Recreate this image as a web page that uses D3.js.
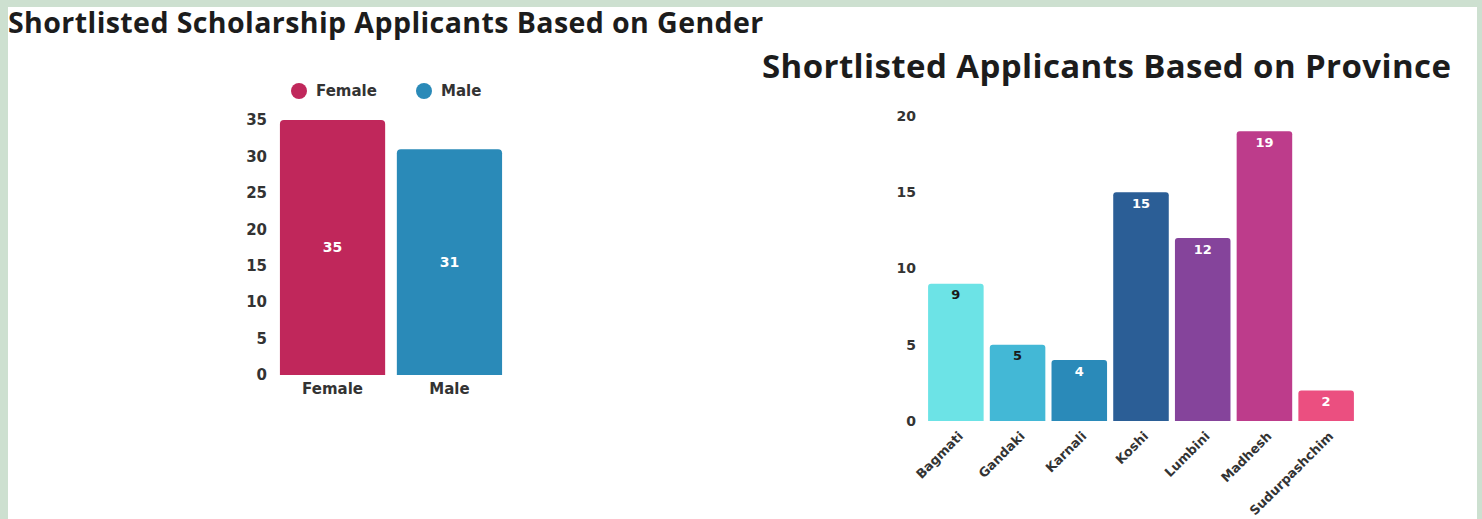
<!DOCTYPE html>
<html><head><meta charset="utf-8">
<script src="https://cdn.jsdelivr.net/npm/d3@7"></script>
<style>
html,body{margin:0;padding:0;background:#cde0d0;}
svg{display:block;}
</style></head>
<body>
<svg id="c" width="1482" height="519"></svg>
<script>
const genderCategories = ["Female", "Male"];
const genderValues = [35, 31];
const genderColors = ["#c0275b", "#2a8ab8"];
const genderTicks = [0, 5, 10, 15, 20, 25, 30, 35];

const provinceCategories = ["Bagmati", "Gandaki", "Karnali", "Koshi", "Lumbini", "Madhesh", "Sudurpashchim"];
const provinceValues = [9, 5, 4, 15, 12, 19, 2];
const provinceColors = ["#6ce3e6", "#43b8d6", "#2a8ab9", "#2b5e96", "#85449b", "#bd3c8b", "#eb4f80"];
const provinceLabelColors = ["#1a1a1a", "#1a1a1a", "#fff", "#fff", "#fff", "#fff", "#fff"];
const provinceTicks = [0, 5, 10, 15, 20];

const title1 = "Shortlisted Scholarship Applicants Based on Gender";
const title2 = "Shortlisted Applicants Based on Province";

const svg = d3.select("#c");
const TFONT = "'Open Sans', sans-serif";
const FONT = "'DejaVu Sans', sans-serif";

svg.append("rect").attr("x", 8).attr("y", 7).attr("width", 1469).attr("height", 512).attr("fill", "#fff");

function fitText(sel, w) {
  const cur = sel.node().getComputedTextLength();
  const fs = parseFloat(sel.attr("font-size"));
  sel.attr("font-size", fs * w / cur);
}

function topRounded(x, y, w, h, r) {
  r = Math.min(r, h, w / 2);
  return `M${x},${y + h}V${y + r}Q${x},${y} ${x + r},${y}H${x + w - r}Q${x + w},${y} ${x + w},${y + r}V${y + h}Z`;
}

// titles
const t1 = svg.append("text").attr("x", 8).attr("y", 33).attr("font-family", TFONT)
  .attr("font-weight", 700).attr("font-size", 22).attr("letter-spacing", 0.4).attr("fill", "#1c1c1c").text(title1);
fitText(t1, 762);
const t2 = svg.append("text").attr("x", 762).attr("y", 78).attr("font-family", TFONT)
  .attr("font-weight", 700).attr("font-size", 30).attr("letter-spacing", 0.4).attr("fill", "#1c1c1c").text(title2);
fitText(t2, 691);

// ---------- Gender chart ----------
const gx = d3.scaleBand().domain(genderCategories).range([277, 505]).paddingInner(0.1).paddingOuter(0.025);
const gy = d3.scaleLinear().domain([0, 35]).range([375, 120]);

const gAxisY = svg.append("g").attr("transform", "translate(269,0)")
  .call(d3.axisLeft(gy).tickValues(genderTicks).tickSize(0).tickPadding(2));
gAxisY.select(".domain").remove();
gAxisY.selectAll("text").attr("font-family", FONT).attr("font-weight", 700).attr("font-size", 15).attr("fill", "#333");

const gAxisX = svg.append("g").attr("transform", "translate(0,375)")
  .call(d3.axisBottom(gx).tickSize(0).tickPadding(8));
gAxisX.select(".domain").remove();
gAxisX.selectAll("text").attr("font-family", FONT).attr("font-weight", 700).attr("font-size", 15).attr("fill", "#333");

svg.append("g").selectAll("path").data(genderCategories).join("path")
  .attr("d", (d, i) => topRounded(gx(d), gy(genderValues[i]), gx.bandwidth(), gy(0) - gy(genderValues[i]), 4))
  .attr("fill", (d, i) => genderColors[i]);

svg.append("g").selectAll("text").data(genderCategories).join("text")
  .attr("x", d => gx(d) + gx.bandwidth() / 2)
  .attr("y", (d, i) => (gy(genderValues[i]) + gy(0)) / 2)
  .attr("dy", "0.35em").attr("text-anchor", "middle")
  .attr("font-family", FONT).attr("font-weight", 700).attr("font-size", 14).attr("fill", "#fff")
  .text((d, i) => genderValues[i]);

// legend
const legX = [299, 424];
const leg = svg.append("g").selectAll("g").data(genderCategories).join("g")
  .attr("transform", (d, i) => `translate(${legX[i]},91)`);
leg.append("circle").attr("r", 8).attr("fill", (d, i) => genderColors[i]);
leg.append("text").attr("x", 17).attr("dy", "0.35em").attr("font-family", FONT).attr("font-weight", 700)
  .attr("font-size", 15).attr("fill", "#333").text(d => d);

// ---------- Province chart ----------
const px = d3.scaleBand().domain(provinceCategories).range([925, 1357]).paddingInner(0.1).paddingOuter(0.05);
const py = d3.scaleLinear().domain([0, 20]).range([421, 116]);

const pAxisY = svg.append("g").attr("transform", "translate(918,0)")
  .call(d3.axisLeft(py).tickValues(provinceTicks).tickSize(0).tickPadding(2));
pAxisY.select(".domain").remove();
pAxisY.selectAll("text").attr("font-family", FONT).attr("font-weight", 700).attr("font-size", 14).attr("fill", "#333");

svg.append("g").selectAll("path").data(provinceCategories).join("path")
  .attr("d", (d, i) => topRounded(px(d), py(provinceValues[i]), px.bandwidth(), py(0) - py(provinceValues[i]), 3))
  .attr("fill", (d, i) => provinceColors[i]);

svg.append("g").selectAll("text").data(provinceCategories).join("text")
  .attr("x", d => px(d) + px.bandwidth() / 2)
  .attr("y", (d, i) => py(provinceValues[i]) + 11)
  .attr("dy", "0.35em").attr("text-anchor", "middle")
  .attr("font-family", FONT).attr("font-weight", 700).attr("font-size", 13)
  .attr("fill", (d, i) => provinceLabelColors[i])
  .text((d, i) => provinceValues[i]);

const pAxisX = svg.append("g").attr("transform", "translate(0,421)")
  .call(d3.axisBottom(px).tickSize(0).tickPadding(0));
pAxisX.select(".domain").remove();
pAxisX.selectAll("text")
  .attr("font-family", FONT).attr("font-weight", 700).attr("font-size", 12.8).attr("fill", "#333")
  .attr("text-anchor", "end").attr("dy", null).attr("y", 0)
  .attr("transform", "translate(8,16) rotate(-45)");
</script>
</body></html>
